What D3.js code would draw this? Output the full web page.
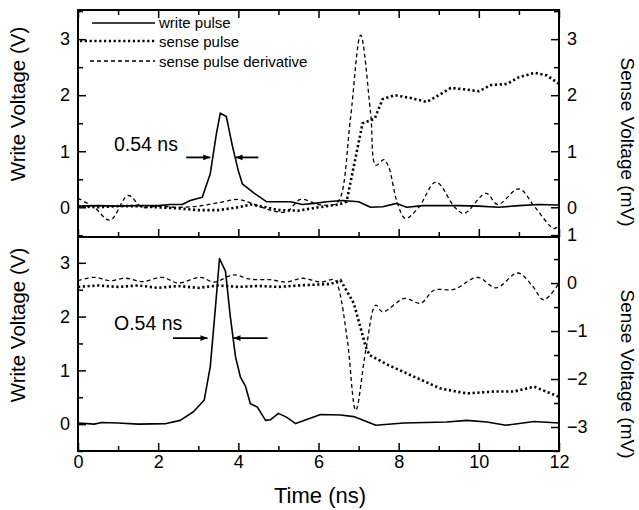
<!DOCTYPE html>
<html>
<head>
<meta charset="utf-8">
<script src="https://cdn.jsdelivr.net/npm/d3@7"></script>
<style>
  body { margin: 0; background: #fff; }
  svg text { font-family: "Liberation Sans", Arial, sans-serif; fill: #000; }
</style>
</head>
<body>
<svg id="chart" width="639" height="510"></svg>
<script>
// values: [time (ns), value]
const topWrite = [[0,0.02],[0.5,0.03],[1,0.02],[1.5,0.03],[2,0.03],[2.3,0.05],[2.6,0.05],[2.8,0.12],[3.1,0.18],[3.3,0.6],[3.45,1.3],[3.55,1.68],[3.7,1.62],[3.85,1.1],[4.0,0.65],[4.1,0.42],[4.4,0.25],[4.7,0.1],[5.0,0.1],[5.3,0.1],[5.6,0.05],[5.9,0.07],[6.2,0.1],[6.6,0.12],[7.0,0.1],[7.3,0.0],[7.6,0.01],[7.95,0.07],[8.2,0.0],[8.6,0.03],[9.5,0.03],[10,0.02],[10.5,0.0],[11,0.03],[11.5,0.05],[12,0.04]];
const topSense = [[0,0.02],[0.5,0.0],[1,0.02],[1.5,0.02],[2,0.0],[2.5,-0.02],[3,-0.05],[3.5,-0.05],[4,0.0],[4.3,0.05],[4.7,0.0],[5,-0.05],[5.5,-0.06],[6,0.0],[6.5,0.05],[6.7,0.1],[6.9,0.8],[7.1,1.5],[7.4,1.58],[7.6,1.93],[7.9,2.0],[8.3,1.95],[8.7,1.88],[9.0,2.0],[9.3,2.13],[9.7,2.1],[10.0,2.07],[10.3,2.18],[10.7,2.2],[11.0,2.32],[11.4,2.4],[11.7,2.35],[12,2.2]];
const topDeriv = [[0,0.16],[0.4,0.0],[0.8,-0.23],[1.25,0.21],[1.6,0.0],[2,0.02],[2.5,0.0],[3,0.02],[3.5,0.08],[4,0.14],[4.3,0.08],[4.8,-0.05],[5.2,-0.08],[5.55,0.14],[6,0.05],[6.4,0.05],[6.55,0.18],[6.8,1.6],[7.05,3.07],[7.3,1.68],[7.43,0.75],[7.63,0.85],[7.75,0.72],[7.97,0.07],[8.17,-0.2],[8.5,0.0],[8.93,0.45],[9.4,0.0],[9.63,-0.11],[10.18,0.25],[10.47,0.05],[11.0,0.33],[11.4,0.0],[11.88,-0.38],[12,-0.3]];

const botWrite = [[0,0.02],[0.4,0.0],[0.6,0.03],[1,0.02],[1.5,0.0],[2.2,0.01],[2.55,0.07],[2.88,0.23],[3.15,0.45],[3.3,1.07],[3.43,2.18],[3.53,3.08],[3.68,2.84],[3.8,2.0],[3.93,1.25],[4.05,0.88],[4.18,0.7],[4.3,0.38],[4.47,0.32],[4.68,0.07],[4.8,0.08],[5.0,0.2],[5.2,0.13],[5.43,0.01],[6.05,0.18],[6.55,0.17],[6.88,0.14],[7.43,-0.02],[8.13,0.02],[9.2,0.04],[9.7,0.07],[10.2,0.04],[10.68,-0.02],[11.38,0.05],[12,0.02]];
const botSense = [[0,-0.08],[0.5,-0.05],[1,-0.08],[1.5,-0.05],[2,-0.1],[2.5,-0.06],[3,-0.1],[3.5,-0.05],[4,-0.08],[4.5,-0.06],[5,-0.08],[5.5,-0.05],[6,-0.03],[6.3,-0.02],[6.55,0.06],[6.88,-0.42],[7.18,-1.33],[7.27,-1.5],[7.72,-1.7],[8.38,-1.95],[9.05,-2.2],[9.7,-2.3],[10.38,-2.26],[10.88,-2.26],[11.38,-2.16],[12,-2.37]];
const botDeriv = [[0,0.05],[0.4,0.12],[0.8,0.05],[1.2,0.1],[1.6,0.03],[2.1,0.12],[2.5,0.0],[3.05,0.12],[3.4,0.02],[3.88,0.17],[4.3,0.08],[4.8,0.07],[5.2,0.02],[5.6,0.1],[6.05,0.02],[6.4,0.07],[6.5,-0.1],[6.72,-1.19],[6.93,-2.65],[7.18,-1.4],[7.43,-0.46],[7.6,-0.6],[8.15,-0.32],[8.55,-0.42],[8.88,-0.15],[9.38,-0.13],[9.97,0.12],[10.43,-0.1],[10.97,0.21],[11.33,-0.05],[11.62,-0.35],[12,0.0]];

const xTicks = [0, 2, 4, 6, 8, 10, 12];
const xMinor = [1, 3, 5, 7, 9, 11];
const topLeftTicks = [0, 1, 2, 3];
const topRightTicks = [0, 1, 2, 3];
const botLeftTicks = [0, 1, 2, 3];
const botRightTicks = [-3, -2, -1, 0, 1];
const legendLabels = ["write pulse", "sense pulse", "sense pulse derivative"];
const annotations = ["0.54 ns", "O.54 ns"];

const svg = d3.select("#chart");
const left = 78, right = 559;
const x = d3.scaleLinear().domain([0, 12]).range([left, right]);

const panels = [
  { top: 10, bottom: 237, yl: [-0.53, 3.52], yr: [-0.53, 3.52],
    lt: topLeftTicks, rt: topRightTicks, write: topWrite, sense: topSense, deriv: topDeriv,
    note: annotations[0], noteY: 151, arrowV: 0.89, arrowL: [2.7, 3.3], arrowR: [4.5, 3.93], labelY: 104, rLabelY: 142 },
  { top: 237, bottom: 451, yl: [-0.5, 3.48], yr: [-3.5, 0.96],
    lt: botLeftTicks, rt: botRightTicks, write: botWrite, sense: botSense, deriv: botDeriv,
    note: annotations[1], noteY: 330, arrowV: 1.6, arrowL: [2.37, 3.23], arrowR: [4.73, 3.88], labelY: 325, rLabelY: 374 }
];

const defs = svg.append("defs");
defs.append("marker").attr("id", "ah").attr("viewBox", "0 0 10 10")
  .attr("refX", 10).attr("refY", 5).attr("markerWidth", 9).attr("markerHeight", 7)
  .attr("markerUnits", "userSpaceOnUse").attr("orient", "auto")
  .append("path").attr("d", "M0,1 L10,5 L0,9 Z").attr("fill", "#000");

function styleAxis(g) {
  g.select(".domain").remove();
  g.selectAll(".tick line").attr("stroke", "#000").attr("stroke-width", 1.5);
  g.selectAll(".tick text").attr("font-size", 18);
}

panels.forEach((p, i) => {
  const yl = d3.scaleLinear().domain(p.yl).range([p.bottom, p.top]);
  const yr = d3.scaleLinear().domain(p.yr).range([p.bottom, p.top]);

  // left axis
  svg.append("g").attr("transform", `translate(${left},0)`)
    .call(d3.axisLeft(yl).tickValues(p.lt).tickFormat(d3.format("d")).tickSize(-8).tickPadding(8))
    .call(styleAxis);
  svg.append("g").attr("transform", `translate(${left},0)`)
    .call(d3.axisLeft(yl).tickValues(d3.range(-0.5, 3.6, 1)).tickFormat("").tickSize(-5))
    .call(styleAxis);
  // right axis
  svg.append("g").attr("transform", `translate(${right},0)`)
    .call(d3.axisRight(yr).tickValues(p.rt).tickFormat(d3.format("d")).tickSize(-8).tickPadding(8))
    .call(styleAxis);
  svg.append("g").attr("transform", `translate(${right},0)`)
    .call(d3.axisRight(yr).tickValues(d3.range(Math.ceil(p.yr[0]) - 0.5, p.yr[1], 1)).tickFormat("").tickSize(-5))
    .call(styleAxis);
  // bottom edge ticks
  svg.append("g").attr("transform", `translate(0,${p.bottom})`)
    .call(d3.axisBottom(x).tickValues(xTicks).tickFormat(i === 1 ? d3.format("d") : "").tickSize(-8).tickPadding(4))
    .call(styleAxis);
  svg.append("g").attr("transform", `translate(0,${p.bottom})`)
    .call(d3.axisBottom(x).tickValues(xMinor).tickFormat("").tickSize(-5))
    .call(styleAxis);
  if (i === 0) {
    svg.append("g").attr("transform", `translate(0,${p.top})`)
      .call(d3.axisTop(x).tickValues(xTicks).tickFormat("").tickSize(-8))
      .call(styleAxis);
    svg.append("g").attr("transform", `translate(0,${p.top})`)
      .call(d3.axisTop(x).tickValues(xMinor).tickFormat("").tickSize(-5))
      .call(styleAxis);
  }

  // frame
  svg.append("rect").attr("x", left).attr("y", p.top)
    .attr("width", right - left).attr("height", p.bottom - p.top)
    .attr("fill", "none").attr("stroke", "#000").attr("stroke-width", 2);

  const clipId = "clip" + i;
  defs.append("clipPath").attr("id", clipId).append("rect")
    .attr("x", left).attr("y", p.top).attr("width", right - left).attr("height", p.bottom - p.top);
  const plot = svg.append("g").attr("clip-path", `url(#${clipId})`);

  const lineL = d3.line().x(d => x(d[0])).y(d => yl(d[1]));
  const lineR = d3.line().x(d => x(d[0])).y(d => yr(d[1]));
  const smoothR = d3.line().x(d => x(d[0])).y(d => yr(d[1])).curve(d3.curveCatmullRom.alpha(0.5));

  plot.append("path").datum(p.deriv).attr("d", smoothR)
    .attr("fill", "none").attr("stroke", "#000").attr("stroke-width", 1.3).attr("stroke-dasharray", "4,3");
  plot.append("path").datum(p.sense).attr("d", lineR)
    .attr("fill", "none").attr("stroke", "#000").attr("stroke-width", 2.6).attr("stroke-dasharray", "2.2,2.6");
  plot.append("path").datum(p.write).attr("d", lineL)
    .attr("fill", "none").attr("stroke", "#000").attr("stroke-width", 1.6).attr("stroke-linejoin", "round");

  // FWHM annotation
  svg.append("text").attr("x", 114).attr("y", p.noteY).attr("font-size", 19.5).text(p.note);
  const ay = yl(p.arrowV);
  [p.arrowL, p.arrowR].forEach(a => {
    svg.append("line").attr("x1", x(a[0])).attr("x2", x(a[1])).attr("y1", ay).attr("y2", ay)
      .attr("stroke", "#000").attr("stroke-width", 1.8).attr("marker-end", "url(#ah)");
  });

  // axis titles
  svg.append("text").attr("transform", `translate(25,${p.labelY}) rotate(-90)`)
    .attr("text-anchor", "middle").attr("font-size", 20.5).text("Write Voltage (V)");
  svg.append("text").attr("transform", `translate(621,${p.rLabelY}) rotate(90)`)
    .attr("text-anchor", "middle").attr("font-size", 19).text("Sense Voltage (mV)");
});

svg.append("text").attr("x", 320).attr("y", 503).attr("text-anchor", "middle")
  .attr("font-size", 22).text("Time (ns)");

// legend
const legendDash = [null, "2.2,2.6", "4,3"];
const legendWidth = [1.5, 2.6, 1.3];
const legendX = [92, 80, 90];
const legendLineY = [23, 41, 61];
const legendTextY = [28, 47, 67];
legendLabels.forEach((lab, k) => {
  svg.append("line").attr("x1", legendX[k]).attr("x2", 155)
    .attr("y1", legendLineY[k]).attr("y2", legendLineY[k])
    .attr("stroke", "#000").attr("stroke-width", legendWidth[k])
    .attr("stroke-dasharray", legendDash[k]);
  svg.append("text").attr("x", 159).attr("y", legendTextY[k]).attr("font-size", 15).text(lab);
});
</script>
</body>
</html>
